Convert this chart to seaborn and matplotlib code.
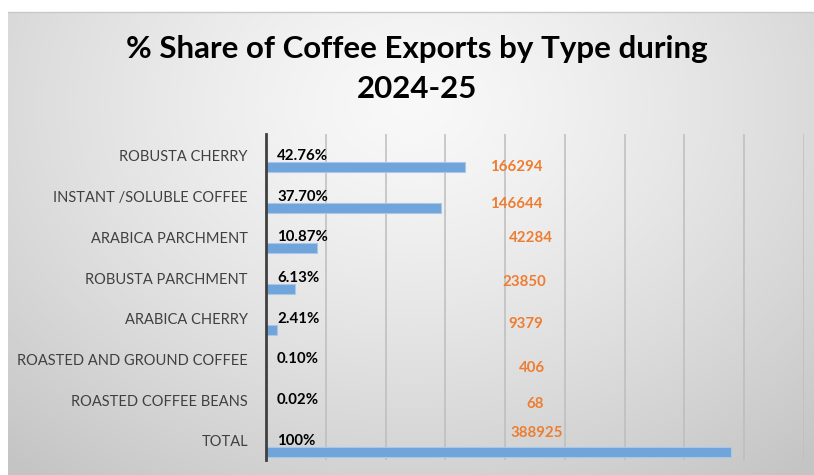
import numpy as np
import pandas as pd
import matplotlib
matplotlib.use("Agg")
import matplotlib.pyplot as plt
import seaborn as sns

categories = ["ROBUSTA CHERRY", "INSTANT /SOLUBLE COFFEE", "ARABICA PARCHMENT",
              "ROBUSTA PARCHMENT", "ARABICA CHERRY", "ROASTED AND GROUND COFFEE",
              "ROASTED COFFEE BEANS", "TOTAL"]
export_values = [166294, 146644, 42284, 23850, 9379, 406, 68, 388925]
share_labels = ["42.76%", "37.70%", "10.87%", "6.13%", "2.41%", "0.10%", "0.02%", "100%"]
title_text = "% Share of Coffee Exports by Type during\n2024-25"

# manual placement nudges of the orange value labels (style, in pixels)
value_label_dx = [-10, -10, 4, -2, -1, 5, 8, 10]
value_label_dy = [0, -4, -10, -7, -6, -2, -7, -19]

sns.set_theme(style="white")
plt.rcParams['font.family'] = ['Lato', 'DejaVu Sans']

df = pd.DataFrame({"category": categories, "value": export_values})

W, H = 814, 475
fig = plt.figure(figsize=(W / 100, H / 100), dpi=100)
fig.patch.set_facecolor("white")

# gradient background frame
bg = fig.add_axes([8 / W, 0, (W - 8) / W, (H - 12) / H], zorder=0)
yy, xx = np.mgrid[0:1:300j, 0:1:500j]
r = np.sqrt(((xx - 0.5) / 0.75) ** 2 + ((yy - 0.2) / 1.0) ** 2)
g = np.clip(0.975 - 0.2 * r ** 1.3, 0.77, 0.975)
bg.imshow(np.dstack([g, g, g]), aspect="auto", extent=(0, 1, 1, 0))
bg.set_xlim(0, 1); bg.set_ylim(1, 0)
bg.axis("off")
fig.add_artist(plt.Line2D([8 / W, 1], [(H - 12) / H, (H - 12) / H], color="#c8c8c8", lw=1))

ax = fig.add_axes([266 / W, 15 / H, (804 - 266) / W, (460 - 134) / H], zorder=2)
ax.patch.set_alpha(0)

sns.barplot(data=df, x="value", y="category", orient="h", color="#6fa5da",
            width=0.245, edgecolor="#a9c8e8", linewidth=0.8, saturation=1, ax=ax)

n = len(categories)
ax.set_xlim(0, 450000)
ax.set_ylim(n - 0.8, -0.81)
ax.set_xticks(np.arange(50000, 450001, 50000))
ax.set_xticklabels([])
ax.xaxis.grid(True, color="#bdbdbd", lw=1.1)
ax.set_axisbelow(True)
ax.tick_params(axis="x", length=0)
ax.set_yticks(np.arange(n) - 0.27)
ax.set_yticklabels(categories, fontsize=10.5, color="#404040")
ax.tick_params(axis="y", length=0, pad=13)
ax.set_xlabel(""); ax.set_ylabel("")
for s in ["top", "right", "bottom"]:
    ax.spines[s].set_visible(False)
ax.spines["left"].set_color("#404040")
ax.spines["left"].set_linewidth(2)

px = 72 / 100  # points per pixel
for i, (lab, v) in enumerate(zip(share_labels, export_values)):
    ax.annotate(lab, xy=(0, i - 0.27), xytext=(8, 0), textcoords="offset points",
                ha="left", va="center", fontsize=10.8, fontweight="bold", color="black")
    ax.annotate(str(v), xy=(218000, i), xytext=(value_label_dx[i] * px, -value_label_dy[i] * px),
                textcoords="offset points", ha="center", va="center", fontsize=10.8,
                fontweight="bold", color="#ED7D31")

fig.text(0.5 + 10 / W, 1 - 69 / H, title_text, ha="center", va="center",
         fontsize=22.5, fontweight="bold", color="black", linespacing=1.48)

fig.savefig("out.png", dpi=100)
